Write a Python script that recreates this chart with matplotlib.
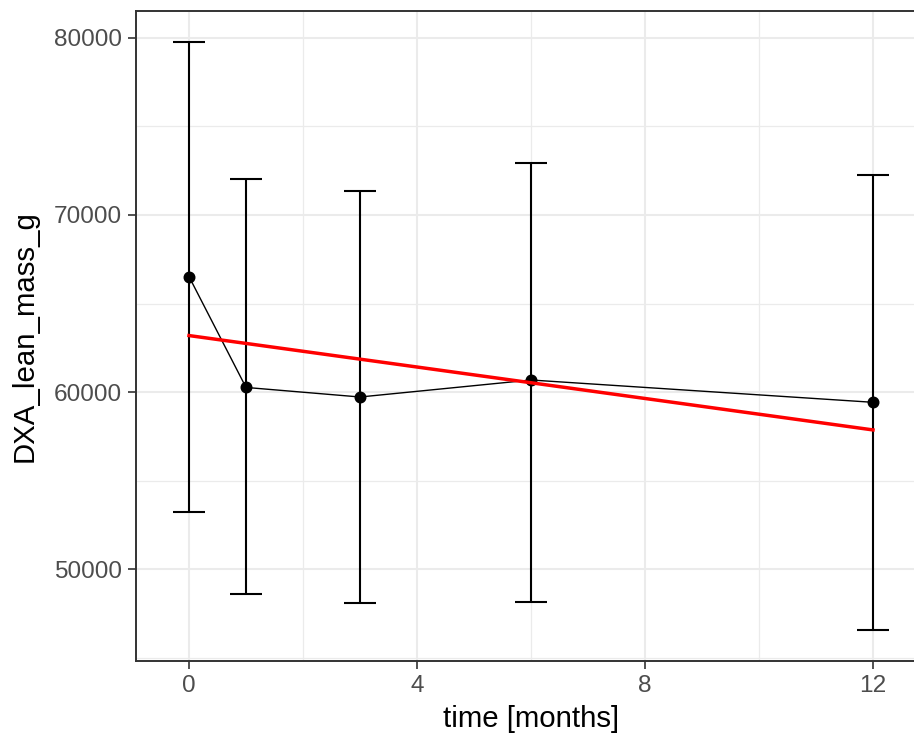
import matplotlib
matplotlib.use("Agg")
import matplotlib.pyplot as plt
from matplotlib.ticker import MultipleLocator
import numpy as np

# Mean lean mass per visit with error bar limits
time_months = [0, 1, 3, 6, 12]
lean_mass_mean = [66520, 60260, 59720, 60680, 59420]
lean_mass_upper = [79780, 72050, 71370, 72930, 72270]
lean_mass_lower = [53200, 48620, 48080, 48170, 46560]

# Linear trend over time (fitted values at first and last visit)
trend_time = [0, 12]
trend_fit = [63190, 57860]

x_ticks = [0, 4, 8, 12]
y_ticks = [50000, 60000, 70000, 80000]

plt.rcParams["font.family"] = ["Liberation Sans", "DejaVu Sans"]

fig = plt.figure(figsize=(9.14 / 2, 7.40 / 2), dpi=200)
ax = fig.add_axes([136 / 914, 79 / 740, 790 / 914, 650 / 740])

grid_col = "#EBEBEB"
ax.set_xlim(-0.93, 12.93)
ax.set_ylim(44810, 81520)
ax.xaxis.set_major_locator(plt.FixedLocator(x_ticks))
ax.yaxis.set_major_locator(plt.FixedLocator(y_ticks))
ax.xaxis.set_minor_locator(MultipleLocator(2))
ax.yaxis.set_minor_locator(MultipleLocator(5000))
ax.grid(which="major", color=grid_col, linewidth=0.75, zorder=0)
ax.grid(which="minor", color=grid_col, linewidth=0.45, zorder=0)
ax.tick_params(which="minor", length=0)
ax.tick_params(which="major", length=2.75, width=0.6, color="#333333",
               labelsize=8.8, labelcolor="#4D4D4D", pad=2.2)
for s in ax.spines.values():
    s.set_color("#333333")
    s.set_linewidth(0.7)
ax.set_axisbelow(True)

mean = np.array(lean_mass_mean)
yerr = [mean - np.array(lean_mass_lower), np.array(lean_mass_upper) - mean]
ax.errorbar(time_months, mean, yerr=yerr, fmt="none", ecolor="black",
            elinewidth=0.75, capsize=5.9, capthick=0.75, zorder=3)
ax.plot(time_months, mean, color="black", linewidth=0.5, zorder=4)
ax.plot(time_months, mean, "o", color="black", markersize=3.3, zorder=5)
ax.plot(trend_time, trend_fit, color="red", linewidth=1.25, zorder=6)

ax.set_xticklabels([str(v) for v in x_ticks])
ax.set_yticklabels([str(v) for v in y_ticks])
ax.set_xlabel("time [months]", fontsize=10.6, labelpad=3)
ax.set_ylabel("DXA_lean_mass_g", fontsize=10.6, labelpad=5.5)

fig.savefig("out.png", dpi=200)
